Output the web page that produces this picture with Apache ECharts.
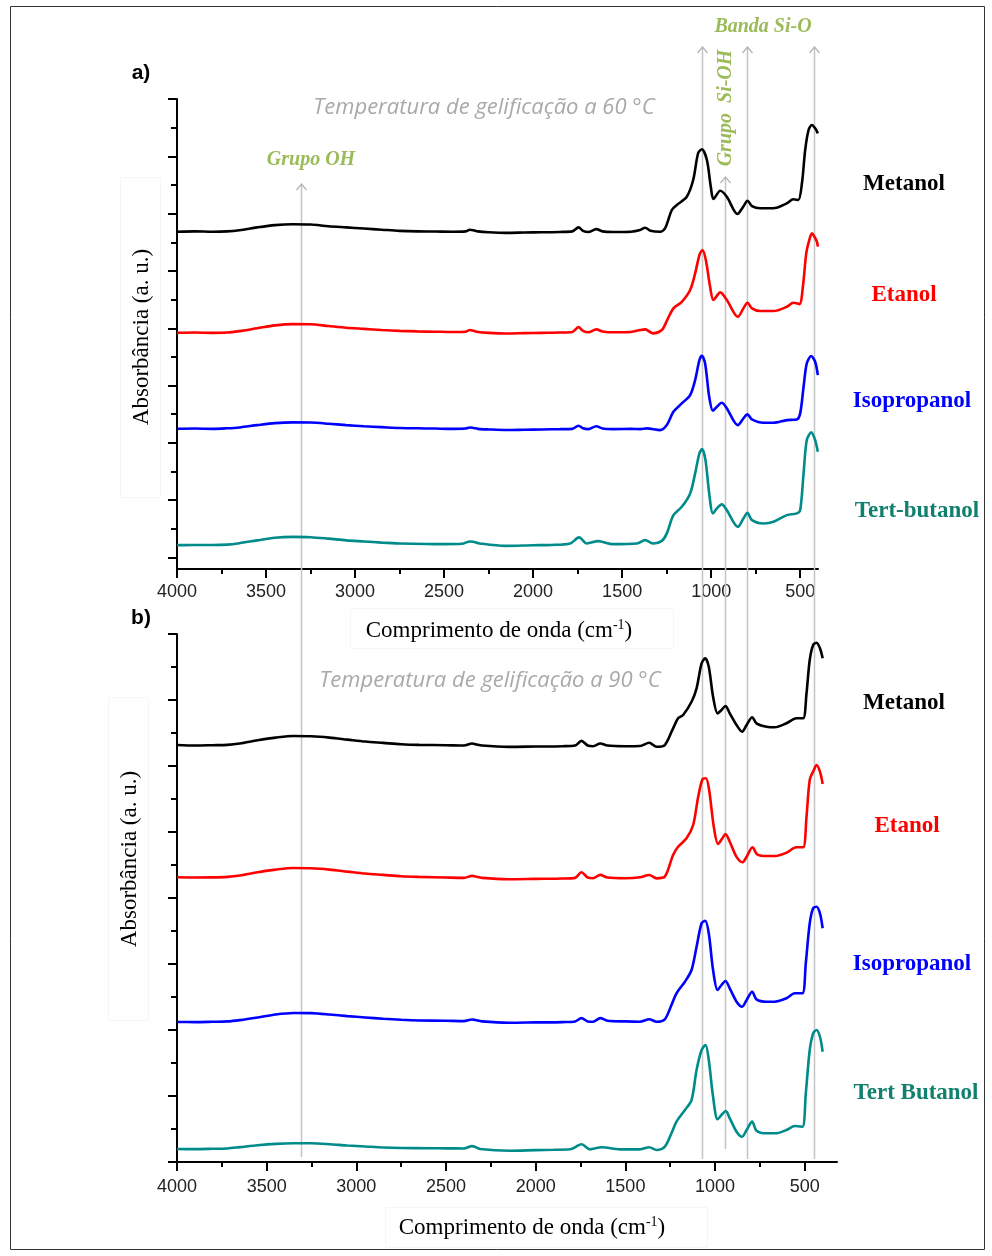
<!DOCTYPE html>
<html>
<head>
<meta charset="utf-8">
<script src="https://cdn.jsdelivr.net/npm/echarts@6/dist/echarts.min.js"></script>
<style>
html, body { margin: 0; padding: 0; background: #ffffff; }
#chart { width: 992px; height: 1256px; }
</style>
</head>
<body>
<div id="chart"></div>
<script>
// FTIR spectra of silica gels prepared with different alcohols,
// gelled at 60 °C (panel a) and 90 °C (panel b).
// Each series: [wavenumber (cm-1), absorbance (a.u., stacked offset)]

const waveTicks = [4000, 3500, 3000, 2500, 2000, 1500, 1000, 500];
const waveMinorTicks = [3750, 3250, 2750, 2250, 1750, 1250, 750];
const absMajorTicks = [0, 1, 2, 3, 4, 5, 6, 7, 8];
const absMinorTicks = [0.5, 1.5, 2.5, 3.5, 4.5, 5.5, 6.5, 7.5];

const panelTitles = ['a)', 'b)'];
const tempNotes = ['Temperatura de gelificação a 60 °C', 'Temperatura de gelificação a 90 °C'];
const solventsA = ['Metanol', 'Etanol', 'Isopropanol', 'Tert-butanol'];
const solventsB = ['Metanol', 'Etanol', 'Isopropanol', 'Tert Butanol'];
const seriesColors = ['#000000', '#ff0000', '#0000ff', '#008b8b'];
const labelColors = ['#000000', '#ff0000', '#0000ff', '#12806e'];
const xTitle = ['Comprimento de onda (cm', '-1', ')'];
const yTitle = 'Absorbância (a. u.)';

// marked bands (cm-1): O-H, Si-O-Si, Si-OH, Si-O, Si-O
const bandPositions = [3310, 1070, 945, 823, 449];
const bandNames = ['Grupo OH', 'Grupo  Si-OH', 'Banda Si-O'];

const metanolA = [
[4000,5.684],[3900,5.69],[3800,5.684],[3720,5.69],[3650,5.71],[3550,5.76],[3450,5.80],[3350,5.815],[3250,5.81],[3150,5.78],[3050,5.76],[2950,5.74],[2850,5.72],[2750,5.70],[2650,5.69],[2550,5.688],[2450,5.684],[2380,5.69],[2355,5.72],[2335,5.71],[2310,5.69],[2250,5.675],[2150,5.665],[2050,5.67],[1950,5.675],[1850,5.68],[1780,5.69],[1745,5.76],[1720,5.70],[1690,5.68],[1645,5.73],[1610,5.69],[1550,5.68],[1450,5.685],[1399,5.714],[1371,5.754],[1340,5.70],[1287,5.684],[1258,5.749],[1221,6.063],[1193,6.150],[1137,6.295],[1101,6.586],[1073,7.058],[1052,7.122],[1024,6.935],[1002,6.469],[987,6.255],[949,6.400],[912,6.295],[852,5.993],[820,6.120],[796,6.225],[771,6.133],[725,6.093],[652,6.093],[575,6.180],[539,6.250],[511,6.237],[490,6.534],[472,7.110],[453,7.459],[434,7.546],[416,7.489],[401,7.401]
];
const etanolA = [
[4000,3.921],[3900,3.925],[3800,3.92],[3720,3.925],[3650,3.95],[3550,4.00],[3450,4.05],[3350,4.073],[3250,4.07],[3150,4.04],[3050,4.01],[2950,3.99],[2850,3.97],[2750,3.955],[2650,3.945],[2550,3.94],[2450,3.935],[2380,3.94],[2355,3.97],[2335,3.955],[2310,3.935],[2250,3.92],[2150,3.91],[2050,3.915],[1950,3.92],[1850,3.925],[1780,3.935],[1745,4.02],[1720,3.955],[1690,3.93],[1645,3.98],[1610,3.945],[1550,3.93],[1450,3.935],[1399,3.969],[1371,3.981],[1326,3.911],[1277,3.969],[1247,4.143],[1212,4.347],[1165,4.462],[1118,4.667],[1090,4.958],[1066,5.277],[1049,5.365],[1030,5.190],[1006,4.724],[987,4.492],[949,4.627],[912,4.492],[850,4.201],[819,4.347],[796,4.445],[771,4.347],[725,4.300],[650,4.300],[575,4.375],[539,4.445],[504,4.422],[485,4.724],[466,5.307],[449,5.539],[434,5.656],[420,5.597],[406,5.510],[401,5.423]
];
const isopropanolA = [
[4000,2.246],[3900,2.25],[3800,2.245],[3720,2.255],[3650,2.27],[3550,2.31],[3450,2.345],[3350,2.358],[3250,2.355],[3150,2.335],[3050,2.31],[2950,2.29],[2850,2.275],[2750,2.26],[2650,2.255],[2550,2.25],[2450,2.245],[2380,2.25],[2355,2.27],[2335,2.26],[2310,2.245],[2250,2.235],[2150,2.225],[2050,2.23],[1950,2.235],[1850,2.24],[1780,2.245],[1745,2.30],[1720,2.255],[1690,2.24],[1645,2.29],[1610,2.25],[1550,2.24],[1450,2.245],[1399,2.241],[1361,2.253],[1287,2.223],[1249,2.311],[1212,2.543],[1165,2.689],[1118,2.834],[1090,3.096],[1066,3.445],[1052,3.520],[1034,3.387],[1011,2.805],[990,2.560],[968,2.630],[940,2.700],[912,2.602],[850,2.311],[819,2.428],[796,2.497],[771,2.410],[706,2.351],[650,2.351],[575,2.398],[519,2.410],[500,2.515],[481,2.979],[463,3.387],[438,3.515],[416,3.415],[401,3.183]
];
const tertButanolA = [
[4000,0.216],[3900,0.22],[3800,0.218],[3720,0.225],[3650,0.25],[3550,0.30],[3450,0.345],[3350,0.36],[3250,0.355],[3150,0.33],[3050,0.30],[2950,0.28],[2850,0.26],[2750,0.245],[2600,0.235],[2500,0.234],[2400,0.24],[2355,0.28],[2337,0.274],[2300,0.246],[2157,0.204],[2000,0.215],[1900,0.22],[1792,0.246],[1742,0.351],[1698,0.246],[1635,0.286],[1551,0.234],[1417,0.246],[1371,0.304],[1324,0.246],[1277,0.291],[1249,0.421],[1212,0.740],[1165,0.885],[1118,1.119],[1090,1.468],[1066,1.817],[1051,1.892],[1032,1.700],[1011,1.119],[990,0.770],[968,0.857],[940,0.927],[912,0.827],[850,0.536],[819,0.682],[796,0.780],[771,0.653],[706,0.595],[650,0.623],[575,0.740],[519,0.770],[500,0.827],[481,1.468],[463,2.049],[438,2.183],[416,2.049],[401,1.845]
];

const metanolB = [
[4000,6.318],[3900,6.31],[3800,6.315],[3720,6.32],[3650,6.34],[3550,6.39],[3450,6.43],[3350,6.455],[3250,6.45],[3150,6.43],[3050,6.40],[2950,6.37],[2850,6.35],[2750,6.33],[2650,6.32],[2500,6.315],[2400,6.31],[2355,6.34],[2335,6.33],[2300,6.31],[2150,6.29],[2000,6.295],[1850,6.30],[1780,6.31],[1745,6.38],[1710,6.31],[1680,6.30],[1640,6.34],[1600,6.31],[1500,6.30],[1419,6.303],[1367,6.353],[1326,6.292],[1280,6.318],[1234,6.571],[1206,6.723],[1178,6.773],[1131,6.974],[1103,7.177],[1075,7.556],[1055,7.632],[1035,7.505],[1011,7.050],[986,6.798],[964,6.848],[942,6.909],[918,6.798],[880,6.621],[849,6.520],[824,6.621],[793,6.738],[769,6.647],[713,6.595],[667,6.586],[602,6.647],[546,6.723],[509,6.723],[490,7.102],[472,7.606],[453,7.833],[434,7.868],[415,7.783],[400,7.632]
];
const etanolB = [
[4000,4.314],[3900,4.31],[3800,4.312],[3720,4.32],[3650,4.34],[3550,4.39],[3450,4.43],[3350,4.455],[3250,4.45],[3150,4.43],[3050,4.40],[2950,4.37],[2850,4.35],[2750,4.33],[2650,4.32],[2500,4.31],[2400,4.305],[2355,4.335],[2335,4.325],[2300,4.305],[2150,4.285],[2000,4.29],[1850,4.295],[1780,4.305],[1745,4.39],[1710,4.31],[1680,4.30],[1640,4.35],[1600,4.31],[1500,4.30],[1419,4.314],[1367,4.348],[1326,4.298],[1280,4.323],[1234,4.652],[1206,4.777],[1159,4.905],[1122,5.106],[1094,5.535],[1070,5.798],[1051,5.814],[1033,5.636],[1007,5.080],[983,4.818],[959,4.905],[942,4.970],[918,4.853],[881,4.626],[847,4.541],[824,4.626],[791,4.768],[765,4.662],[713,4.636],[667,4.636],[602,4.686],[546,4.768],[509,4.768],[490,5.232],[472,5.788],[449,5.939],[434,6.015],[415,5.914],[400,5.727]
];
const isopropanolB = [
[4000,2.121],[3900,2.12],[3800,2.125],[3720,2.13],[3650,2.15],[3550,2.19],[3450,2.235],[3350,2.258],[3250,2.255],[3150,2.235],[3050,2.21],[2950,2.19],[2850,2.17],[2750,2.155],[2650,2.145],[2500,2.14],[2400,2.135],[2355,2.16],[2335,2.15],[2300,2.13],[2150,2.11],[2000,2.115],[1850,2.12],[1780,2.13],[1745,2.18],[1710,2.13],[1680,2.125],[1640,2.18],[1600,2.14],[1500,2.13],[1419,2.126],[1367,2.162],[1326,2.126],[1280,2.162],[1243,2.379],[1215,2.556],[1168,2.732],[1131,2.909],[1103,3.262],[1075,3.617],[1055,3.656],[1035,3.465],[1011,2.909],[986,2.606],[964,2.682],[942,2.742],[918,2.632],[880,2.429],[849,2.353],[824,2.455],[793,2.580],[769,2.465],[713,2.429],[667,2.429],[602,2.480],[555,2.556],[513,2.556],[494,3.011],[472,3.617],[453,3.844],[434,3.868],[415,3.768],[400,3.541]
];
const tertButanolB = [
[4000,0.197],[3900,0.195],[3800,0.2],[3720,0.205],[3650,0.225],[3550,0.255],[3450,0.275],[3350,0.283],[3250,0.283],[3150,0.27],[3050,0.25],[2950,0.235],[2850,0.22],[2750,0.212],[2600,0.208],[2500,0.207],[2400,0.205],[2355,0.24],[2340,0.232],[2311,0.197],[2144,0.171],[2000,0.18],[1900,0.185],[1809,0.192],[1744,0.268],[1698,0.192],[1633,0.223],[1531,0.192],[1419,0.192],[1367,0.223],[1326,0.182],[1280,0.232],[1243,0.435],[1215,0.611],[1168,0.788],[1131,0.939],[1103,1.394],[1075,1.697],[1053,1.773],[1035,1.545],[1011,0.989],[986,0.647],[964,0.712],[940,0.773],[918,0.662],[880,0.459],[849,0.383],[824,0.485],[793,0.611],[769,0.474],[713,0.435],[657,0.435],[602,0.485],[555,0.545],[513,0.535],[494,1.041],[472,1.697],[453,1.950],[434,2.000],[415,1.898],[400,1.671]
];

const spectraA = [metanolA, etanolA, isopropanolA, tertButanolA];
const spectraB = [metanolB, etanolB, isopropanolB, tertButanolB];

// ---------------------------------------------------------------------------
const chart = echarts.init(document.getElementById('chart'), null, { renderer: 'canvas' });

const AXIS_COLOR = '#000000';
const TICK_FONT = '"Liberation Sans", Arial, sans-serif';
const SERIF = '"Liberation Serif", "Times New Roman", serif';

function xAxisPair(gridIndex, min, labelMargin) {
  return [
    {
      gridIndex, type: 'value', position: 'bottom', inverse: true, min, max: 4000,
      axisLine: { show: true, onZero: false, lineStyle: { color: AXIS_COLOR, width: 2 } },
      axisTick: { show: true, customValues: waveTicks, length: 9, lineStyle: { color: AXIS_COLOR, width: 2 } },
      axisLabel: { show: true, customValues: waveTicks, margin: labelMargin, fontSize: 18,
        color: '#222222', fontFamily: TICK_FONT, hideOverlap: false,
        formatter: v => String(v) },
      splitLine: { show: false }
    },
    {
      gridIndex, type: 'value', position: 'bottom', offset: 0, inverse: true, min, max: 4000,
      axisLine: { show: false, onZero: false },
      axisTick: { show: true, customValues: waveMinorTicks, length: 5, lineStyle: { color: AXIS_COLOR, width: 2 } },
      axisLabel: { show: false },
      splitLine: { show: false }
    }
  ];
}

function yAxisPair(gridIndex, min) {
  return [
    {
      gridIndex, type: 'value', position: 'left', min, max: 8,
      axisLine: { show: true, onZero: false, lineStyle: { color: AXIS_COLOR, width: 2 } },
      axisTick: { show: true, customValues: absMajorTicks, length: 9, lineStyle: { color: AXIS_COLOR, width: 2 } },
      axisLabel: { show: false },
      splitLine: { show: false }
    },
    {
      gridIndex, type: 'value', position: 'left', offset: 0, min, max: 8,
      axisLine: { show: false, onZero: false },
      axisTick: { show: true, customValues: absMinorTicks, length: 6, lineStyle: { color: AXIS_COLOR, width: 2 } },
      axisLabel: { show: false },
      splitLine: { show: false }
    }
  ];
}

function spectrumSeries(data, i, axisBase) {
  return {
    type: 'line',
    xAxisIndex: axisBase,
    yAxisIndex: axisBase,
    data,
    showSymbol: false,
    smooth: 0.3,
    z: 5,
    lineStyle: { color: seriesColors[i], width: 2.6 },
    emphasis: { disabled: true }
  };
}

const series = [];
spectraA.forEach((d, i) => series.push(spectrumSeries(d, i, 0)));
spectraB.forEach((d, i) => series.push(spectrumSeries(d, i, 2)));

chart.setOption({
  animation: false,
  backgroundColor: '#ffffff',
  grid: [
    { left: 177, top: 99, width: 641, height: 470, outerBoundsMode: 'none' },
    { left: 177, top: 634, width: 660, height: 528, outerBoundsMode: 'none' }
  ],
  xAxis: [...xAxisPair(0, 400, 14), ...xAxisPair(1, 320, 16)],
  yAxis: [...yAxisPair(0, -0.2), ...yAxisPair(1, 0)],
  series
});

// ---------------------------------------------------------------------------
// Overlay: frame, panel letters, axis titles, solvent names, band markers.
const graphics = [];

// outer frame
graphics.push({ type: 'rect', shape: { x: 10.5, y: 6.5, width: 974, height: 1243 },
  style: { fill: null, stroke: '#333333', lineWidth: 1 }, z: 0, silent: true });

// faint boxes behind axis titles
[[120, 177, 40, 320], [350, 608, 323, 40], [108, 697, 40, 323], [385, 1207, 322, 40]].forEach(b => {
  graphics.push({ type: 'rect', shape: { x: b[0] + 0.5, y: b[1] + 0.5, width: b[2], height: b[3] },
    style: { fill: null, stroke: '#f6f6f6', lineWidth: 1 }, z: 0, silent: true });
});

// panel letters
[[141, 73], [141, 618]].forEach((p, i) => {
  graphics.push({ type: 'text', x: p[0], y: p[1], z: 20, silent: true,
    style: { text: panelTitles[i], align: 'center', verticalAlign: 'middle',
      font: 'bold 21px "Liberation Sans", Arial, sans-serif', fill: '#000000' } });
});

// gelation temperature notes
[[484, 108], [490, 681]].forEach((p, i) => {
  graphics.push({ type: 'text', x: p[0], y: p[1], z: 20, silent: true,
    style: { text: tempNotes[i], align: 'center', verticalAlign: 'middle',
      font: 'italic 22px "Open Sans", "Noto Sans", sans-serif', fill: '#a9a9a9' } });
});

// axis titles
function xTitleText(cx, cy) {
  return { type: 'text', x: cx, y: cy, z: 20, silent: true,
    style: {
      text: '{t|' + xTitle[0] + '}{s|' + xTitle[1] + '}{t|' + xTitle[2] + '}',
      align: 'center', verticalAlign: 'middle',
      rich: {
        t: { fontFamily: SERIF, fontSize: 23, fill: '#000000', color: '#000000' },
        s: { fontFamily: SERIF, fontSize: 14, fill: '#000000', color: '#000000', padding: [0, 0, 12, 0] }
      }
    } };
}
graphics.push(xTitleText(499, 631));
graphics.push(xTitleText(532, 1228));
[[142, 337], [130, 859]].forEach(p => {
  graphics.push({ type: 'text', x: p[0], y: p[1], rotation: Math.PI / 2, z: 20, silent: true,
    style: { text: yTitle, align: 'center', verticalAlign: 'middle',
      font: '23px "Liberation Serif", "Times New Roman", serif', fill: '#000000' } });
});

// solvent names
const namePosA = [[904, 184], [904, 295], [912, 401], [917, 511]];
const namePosB = [[904, 703], [907, 826], [912, 964], [916, 1093]];
function nameText(txt, p, i) {
  return { type: 'text', x: p[0], y: p[1], z: 20, silent: true,
    style: { text: txt, align: 'center', verticalAlign: 'middle',
      font: 'bold 23px "Liberation Serif", "Times New Roman", serif', fill: labelColors[i] } };
}
solventsA.forEach((s, i) => graphics.push(nameText(s, namePosA[i], i)));
solventsB.forEach((s, i) => graphics.push(nameText(s, namePosB[i], i)));

// band marker lines with open arrowheads, positioned from the lower panel's axis
const lineTops = [184, 47, 177, 47, 47];
const lineBottoms = [1157, 1159, 1149, 1159, 1159];
bandPositions.forEach((wn, i) => {
  const x = Math.round(chart.convertToPixel({ xAxisIndex: 2 }, wn)) + 0.5;
  const top = lineTops[i];
  graphics.push({ type: 'line', z: 1, silent: true,
    shape: { x1: x, y1: top, x2: x, y2: lineBottoms[i] },
    style: { stroke: '#c4c4c4', lineWidth: 1.5 } });
  graphics.push({ type: 'polyline', z: 1, silent: true,
    shape: { points: [[x - 5, top + 6], [x, top], [x + 5, top + 6]] },
    style: { stroke: '#b4b4b4', lineWidth: 1.3, fill: null } });
});

// band names
const GREEN = '#9bbb59';
const bandFont = 'bold italic 20px "Liberation Serif", "Times New Roman", serif';
graphics.push({ type: 'text', x: 311, y: 160, z: 20, silent: true,
  style: { text: bandNames[0], align: 'center', verticalAlign: 'middle', font: bandFont, fill: GREEN } });
graphics.push({ type: 'text', x: 726, y: 108, rotation: Math.PI / 2, z: 20, silent: true,
  style: { text: bandNames[1], align: 'center', verticalAlign: 'middle', font: bandFont, fill: GREEN } });
graphics.push({ type: 'text', x: 763, y: 27, z: 20, silent: true,
  style: { text: bandNames[2], align: 'center', verticalAlign: 'middle', font: bandFont, fill: GREEN } });

chart.setOption({ graphic: { elements: graphics } });
</script>
</body>
</html>
